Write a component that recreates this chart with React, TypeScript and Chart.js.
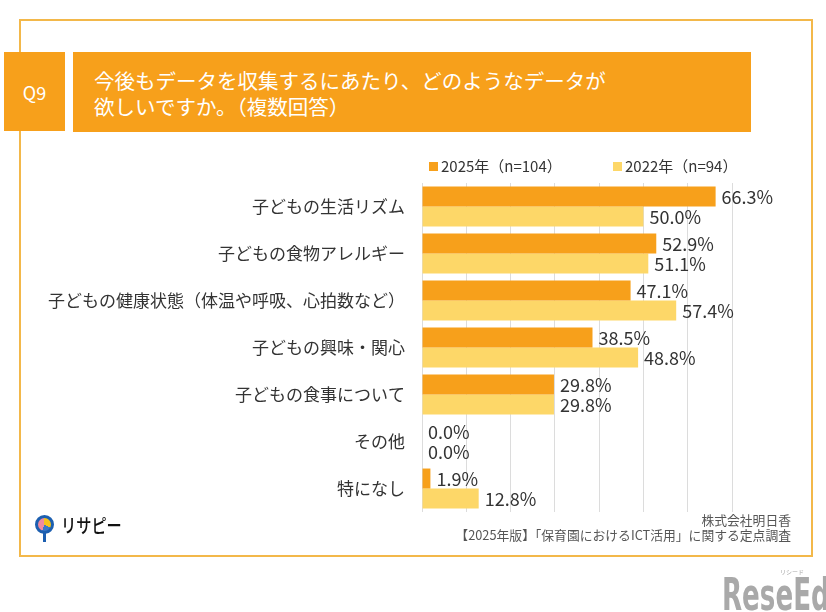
import React, { useEffect, useRef } from "react";
import { Chart, registerables } from "chart.js";

Chart.register(...registerables);

const categories = [
  "子どもの生活リズム",
  "子どもの食物アレルギー",
  "子どもの健康状態（体温や呼吸、心拍数など）",
  "子どもの興味・関心",
  "子どもの食事について",
  "その他",
  "特になし",
];
const series2025 = [66.3, 52.9, 47.1, 38.5, 29.8, 0.0, 1.9];
const series2022 = [50.0, 51.1, 57.4, 48.8, 29.8, 0.0, 12.8];
const seriesNames = ["2025年（n=104）", "2022年（n=94）"];
const xTicks = [0, 10, 20, 30, 40, 50, 60, 70];

const FONT = '"Noto Sans CJK JP", "Noto Sans", sans-serif';
const ORANGE = "#F7A01B";
const YELLOW = "#FDD768";

const labelPlugin = {
  id: "valueLabels",
  afterDatasetsDraw(chart: any) {
    const ctx = chart.ctx;
    ctx.save();
    ctx.font = `18px ${FONT}`;
    ctx.fillStyle = "#333333";
    ctx.textAlign = "left";
    ctx.textBaseline = "middle";
    chart.data.datasets.forEach((ds: any, di: number) => {
      const meta = chart.getDatasetMeta(di);
      meta.data.forEach((el: any, i: number) => {
        const v = ds.data[i] as number;
        ctx.fillText(v.toFixed(1) + "%", el.x + 6, el.y + 1);
      });
    });
    ctx.restore();
  },
};

function ChartCanvas() {
  const ref = useRef<HTMLCanvasElement | null>(null);
  useEffect(() => {
    if (!ref.current) return;
    const chart = new Chart(ref.current, {
      type: "bar",
      data: {
        labels: categories,
        datasets: [
          {
            label: seriesNames[0],
            data: series2025,
            backgroundColor: ORANGE,
            categoryPercentage: 0.85,
            barPercentage: 1,
          },
          {
            label: seriesNames[1],
            data: series2022,
            backgroundColor: YELLOW,
            categoryPercentage: 0.85,
            barPercentage: 1,
          },
        ],
      },
      options: {
        indexAxis: "y",
        responsive: false,
        animation: false,
        devicePixelRatio: 1,
        layout: { padding: { left: 0, right: 94, top: 183, bottom: 100 } },
        plugins: {
          legend: { display: false },
          tooltip: { enabled: false },
        },
        scales: {
          x: {
            min: xTicks[0],
            max: xTicks[xTicks.length - 1],
            ticks: { display: false, stepSize: 10 },
            grid: { color: "#dcdcdc", drawTicks: false, lineWidth: 1 },
            border: { display: false },
          },
          y: {
            ticks: {
              color: "#333333",
              font: { size: 17, family: FONT },
              padding: 17,
            },
            grid: { display: false, drawTicks: false },
            border: { display: false },
            afterFit(scale: any) {
              scale.width = 422;
            },
          },
        },
      } as any,
      plugins: [labelPlugin],
    });
    return () => chart.destroy();
  }, []);
  return (
    <canvas
      ref={ref}
      width={826}
      height={612}
      style={{ position: "absolute", left: 0, top: 0, width: 826, height: 612 }}
    />
  );
}

export default function App() {
  const abs = (s: React.CSSProperties): React.CSSProperties => ({ position: "absolute", ...s });
  return (
    <div
      style={{
        position: "absolute",
        left: 0,
        top: 0,
        width: 826,
        height: 612,
        background: "#ffffff",
        overflow: "hidden",
        fontFamily: FONT,
      }}
    >
      {/* frame */}
      <div style={abs({ left: 19, top: 19, width: 790, height: 534, border: "2px solid #F3B84A" })} />
      <ChartCanvas />
      {/* Q9 box */}
      <div
        style={abs({
          left: 4,
          top: 52,
          width: 61,
          height: 79,
          background: ORANGE,
          color: "#fff",
          fontSize: 18,
          display: "flex",
          alignItems: "center",
          justifyContent: "center",
        })}
      >
        Q9
      </div>
      {/* title bar */}
      <div style={abs({ left: 73, top: 52, width: 678, height: 80, background: ORANGE })} />
      <div style={abs({ left: 94, top: 67, color: "#fff", fontSize: 20.5, lineHeight: "26px" })}>
        今後もデータを収集するにあたり、どのようなデータが
        <br />
        欲しいですか。（複数回答）
      </div>
      {/* legend */}
      <div style={abs({ left: 429, top: 162, width: 9, height: 9, background: ORANGE })} />
      <div style={abs({ left: 441, top: 156, fontSize: 15, lineHeight: "20px", color: "#333" })}>
        {seriesNames[0]}
      </div>
      <div style={abs({ left: 613, top: 162, width: 9, height: 9, background: YELLOW })} />
      <div style={abs({ left: 625, top: 156, fontSize: 15, lineHeight: "20px", color: "#333" })}>
        {seriesNames[1]}
      </div>
      {/* logo */}
      <div
        style={abs({
          left: 35,
          top: 515,
          width: 13,
          height: 13,
          borderRadius: "50%",
          border: "3px solid #1C5FB0",
          background: "conic-gradient(#F6C31C 0deg 120deg, #3B78C8 120deg 200deg, #F08AA0 200deg 360deg)",
        })}
      />
      <div style={abs({ left: 42.5, top: 533, width: 3, height: 9, background: "#1C5FB0" })} />
      <div
        style={abs({
          left: 61,
          top: 513,
          fontSize: 19,
          lineHeight: "24px",
          fontWeight: 500,
          color: "#111",
          transform: "scaleX(0.8)",
          transformOrigin: "left top",
          whiteSpace: "nowrap",
        })}
      >
        リサピー
      </div>
      {/* source */}
      <div
        style={abs({
          right: 826 - 791,
          top: 512,
          textAlign: "right",
          fontSize: 12.8,
          lineHeight: "15px",
          color: "#555",
        })}
      >
        株式会社明日香
        <br />
        【2025年版】「保育園におけるICT活用」に関する定点調査
      </div>
      {/* watermark */}
      <div
        style={abs({
          left: 722,
          top: 573,
          fontSize: 44,
          lineHeight: "44px",
          fontWeight: "bold",
          color: "#A9A9A9",
          fontFamily: '"DejaVu Sans Condensed", "Liberation Sans Narrow", sans-serif',
          transform: "scaleX(0.66)",
          transformOrigin: "left top",
          whiteSpace: "nowrap",
        })}
      >
        ReseEd
      </div>
      <div style={abs({ left: 780, top: 567, fontSize: 6, color: "#A9A9A9" })}>リシード</div>
    </div>
  );
}
